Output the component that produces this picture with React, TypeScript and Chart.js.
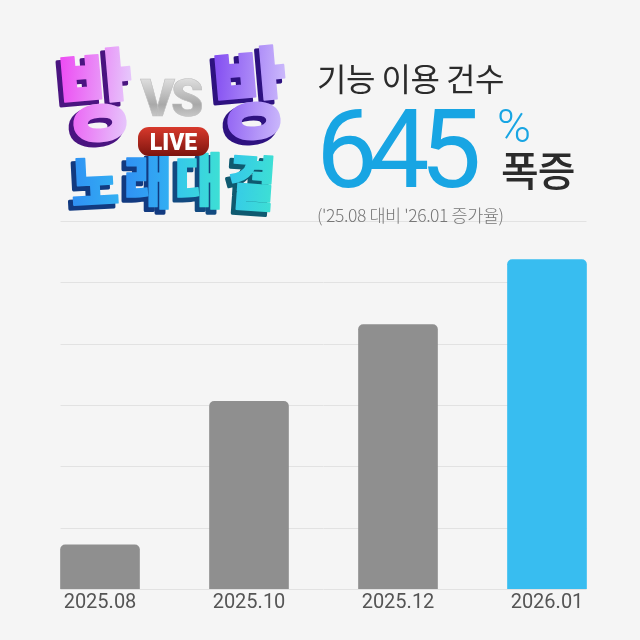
import React, { useEffect, useRef } from "react";
import { Chart, registerables } from "chart.js";

Chart.register(...registerables);

const categories = ["2025.08", "2025.10", "2025.12", "2026.01"];
const values = [72, 306, 431, 537];
const barColors = ["#8f8f8f", "#8f8f8f", "#8f8f8f", "#38bdf0"];
const yTicks = [0, 100, 200, 300, 400, 500, 600];

const CJK = '"Noto Sans CJK KR", sans-serif';

const gridPlugin = {
  id: "shortGrid",
  beforeDatasetsDraw(chart: any) {
    const { ctx, scales } = chart;
    const meta = chart.getDatasetMeta(0).data;
    const left = meta[0].x - meta[0].width / 2;
    const right = meta[meta.length - 1].x + meta[meta.length - 1].width / 2;
    ctx.save();
    ctx.strokeStyle = "#e2e2e2";
    ctx.lineWidth = 1;
    yTicks.forEach((t) => {
      const y = Math.round(scales.y.getPixelForValue(t)) + 0.5;
      ctx.beginPath();
      ctx.moveTo(left, y);
      ctx.lineTo(right, y);
      ctx.stroke();
    });
    ctx.restore();
  },
};

function Depth({ x, y, size, text, fill, dark, rotate = 0, sx = 1, sy = 1 }: any) {
  const scale = `rotate(${rotate}) scale(${sx} ${sy})`;
  return (
    <g fontFamily={CJK} fontWeight={900} fontSize={size} textAnchor="middle">
      <text transform={`translate(${x - 4} ${y + 4}) ${scale}`} fill={dark} stroke={dark} strokeWidth={3} strokeLinejoin="round">{text}</text>
      <text transform={`translate(${x} ${y}) ${scale}`} fill={fill} stroke={fill} strokeWidth={1.5} strokeLinejoin="round">{text}</text>
    </g>
  );
}

function Logo() {
  return (
    <svg width={640} height={230} style={{ position: "absolute", left: 0, top: 0 }}>
      <defs>
        <linearGradient id="pink" x1="0" x2="1" y1="0" y2="0.3">
          <stop offset="0" stopColor="#ee3bf2" />
          <stop offset="1" stopColor="#e6c4fb" />
        </linearGradient>
        <linearGradient id="violet" x1="0" x2="1" y1="0" y2="0.3">
          <stop offset="0" stopColor="#7a3ff0" />
          <stop offset="1" stopColor="#c9b6fb" />
        </linearGradient>
        <linearGradient id="blue" gradientUnits="userSpaceOnUse" x1="-30" x2="30" y1="0" y2="0">
          <stop offset="0" stopColor="#2f8cf4" />
          <stop offset="1" stopColor="#33b4f2" />
        </linearGradient>
        <linearGradient id="teal" gradientUnits="userSpaceOnUse" x1="-30" x2="30" y1="0" y2="0">
          <stop offset="0" stopColor="#33c4ee" />
          <stop offset="1" stopColor="#3fe4d0" />
        </linearGradient>
        <linearGradient id="silver" x1="0" x2="0" y1="0" y2="1">
          <stop offset="0" stopColor="#f4f4f4" />
          <stop offset="0.6" stopColor="#a9a9a9" />
          <stop offset="1" stopColor="#e8e8e8" />
        </linearGradient>
        <linearGradient id="red" x1="0" x2="0" y1="0" y2="1">
          <stop offset="0" stopColor="#d8392c" />
          <stop offset="1" stopColor="#7c140e" />
        </linearGradient>
      </defs>
      <Depth x={100} y={132} size={82} text="방" fill="url(#pink)" dark="#4a1480" rotate={-5} sx={0.98} sy={1.2} />
      <Depth x={254} y={130} size={82} text="방" fill="url(#violet)" dark="#2e1280" rotate={-5} sx={0.98} sy={1.2} />
      <text x={170} y={116} fontFamily="Roboto" fontWeight={900} fontSize={52} textAnchor="middle" fill="url(#silver)" stroke="#bdbdbd" strokeWidth={0.6} letterSpacing={-4}>VS</text>
      <Depth x={96} y={204} size={52} text="노" fill="url(#blue)" dark="#123a80" rotate={-3} sx={1} sy={1.14} />
      <Depth x={148} y={203} size={52} text="래" fill="url(#blue)" dark="#123a80" sx={1} sy={1.14} />
      <Depth x={199} y={203} size={52} text="대" fill="url(#teal)" dark="#124a80" sx={1} sy={1.14} />
      <Depth x={250} y={205} size={52} text="결" fill="url(#teal)" dark="#0f5a70" rotate={4} sx={1} sy={1.14} />
      <rect x={138} y={127} width={71} height={29} rx={11} fill="url(#red)" />
      <text x={173.5} y={150} fontFamily="Roboto" fontWeight={900} fontSize={23} textAnchor="middle" fill="#ffffff">LIVE</text>
    </svg>
  );
}

function label(style: React.CSSProperties, text: string) {
  return (
    <div style={{ position: "absolute", whiteSpace: "nowrap", lineHeight: 1, ...style }}>{text}</div>
  );
}

export default function App() {
  const ref = useRef<HTMLCanvasElement>(null);
  useEffect(() => {
    const chart = new Chart(ref.current!, {
      type: "bar",
      data: {
        labels: categories,
        datasets: [
          {
            data: values,
            backgroundColor: barColors,
            barThickness: 79,
            borderRadius: { topLeft: 5, topRight: 5, bottomLeft: 0, bottomRight: 0 },
            borderSkipped: false,
          },
        ],
      },
      options: {
        animation: false,
        responsive: false,
        layout: { padding: { left: 25.5, right: 18.5, top: 221, bottom: 23 } },
        plugins: { legend: { display: false }, tooltip: { enabled: false } },
        scales: {
          x: {
            grid: { display: false, drawTicks: false },
            border: { display: false },
            ticks: {
              color: "#555555",
              font: { family: "Roboto", size: 20 },
              padding: 2,
              maxRotation: 0,
            },
          },
          y: {
            display: false,
            min: 0,
            max: 600,
            ticks: { stepSize: 100 },
          },
        },
      },
      plugins: [gridPlugin],
    });
    return () => chart.destroy();
  }, []);
  return (
    <div style={{ position: "absolute", left: 0, top: 0, width: 640, height: 640, background: "#f5f5f5", overflow: "hidden" }}>
      <canvas ref={ref} width={640} height={640} style={{ position: "absolute", left: 0, top: 0, display: "block" }} />
      <Logo />
      {label({ left: 317, top: 61, fontFamily: CJK, fontSize: 32, color: "#2b2b2b", fontWeight: 400, letterSpacing: -0.5 }, "기능 이용 건수")}
      {label({ left: 316, top: 95, fontFamily: "Roboto", fontSize: 110, color: "#18a5e3", fontWeight: 400, letterSpacing: -10 }, "645")}
      {label({ left: 497, top: 103, fontFamily: "Roboto", fontSize: 46, color: "#18a5e3", fontWeight: 300 }, "%")}
      {label({ left: 501, top: 148, fontFamily: CJK, fontSize: 41, color: "#2b2b2b", fontWeight: 500, letterSpacing: -1 }, "폭증")}
      {label({ left: 317, top: 206, fontFamily: CJK, fontSize: 17.5, color: "#777777", fontWeight: 300, letterSpacing: -0.4 }, "('25.08 대비 '26.01 증가율)")}
    </div>
  );
}
